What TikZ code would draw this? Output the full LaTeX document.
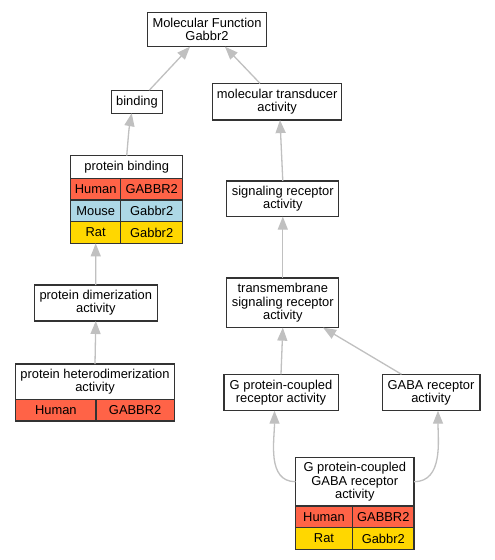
\documentclass[tikz,border=0pt]{standalone}
\usepackage{fontspec}
\setmainfont{Liberation Sans}
\usetikzlibrary{arrows.meta}
\definecolor{human}{RGB}{255,99,71}
\definecolor{mouse}{RGB}{173,216,230}
\definecolor{rat}{RGB}{255,215,0}
\definecolor{linkgray}{RGB}{192,192,192}
\definecolor{boxline}{RGB}{51,51,51}
\tikzset{
  term/.style={draw=boxline,fill=white,line width=1.3pt,align=center,inner sep=1pt,outer sep=0pt,font=\fontsize{12.9}{13.3}\selectfont},
  cell/.style={term,minimum height=21.7pt,anchor=north west},
  link/.style={draw=linkgray,line width=1.3pt},
}

\begin{document}
\begin{tikzpicture}[x=1pt,y=1pt,>={Triangle[length=13pt,width=10pt]}]
\useasboundingbox[fill=white] (0,0) rectangle (495,-560);
\node[term,minimum width=119pt,minimum height=34pt] (mf) at (207,-29.7) {Molecular Function\\Gabbr2};
\node[term,minimum width=51pt,minimum height=23pt,node distance=72pt,below of = mf,xshift=-70pt] (binding) {binding};
\node[term,minimum width=129pt,minimum height=36.7pt,node distance=140.2pt,right of = binding] (mtrans) {molecular transducer\\activity};
\node[term,minimum width=112pt,minimum height=22.6pt,node distance=65.3pt,below of = binding,xshift=-10.3pt] (pbind) {protein binding};
\node[term,minimum width=112pt,minimum height=35.7pt,node distance=97.1pt,below of = mtrans,xshift=5.6pt] (sigrec) {signaling receptor\\activity};
\node[term,minimum width=123pt,minimum height=36pt,node distance=136pt,below of = pbind,xshift=-30.9pt] (dimer) {protein dimerization\\activity};
\node[term,minimum width=112pt,minimum height=49.7pt,node distance=104pt,below of = sigrec] (tmsig) {transmembrane\\signaling receptor\\activity};
\node[term,minimum width=158.6pt,minimum height=35.3pt,node distance=78.7pt,below of = dimer,xshift=-0.8pt] (hetero) {protein heterodimerization\\activity};
\node[term,minimum width=114.3pt,minimum height=36.4pt,node distance=89.7pt,below of = tmsig,xshift=-1.8pt] (gpcr) {G protein-coupled\\receptor activity};
\node[term,minimum width=97.7pt,minimum height=36.4pt,node distance=150pt,right of = gpcr] (gaba) {GABA receptor\\activity};
\node[term,minimum width=118.6pt,minimum height=48.7pt,node distance=89.2pt,below of = gpcr,xshift=73.8pt] (ggaba) {G protein-coupled\\GABA receptor\\activity};

% gene tables
\node[cell,fill=human,minimum width=50pt] (pbH1) at (pbind.south west) {Human};
\node[cell,fill=human,minimum width=62pt] (pbH2) at (pbH1.north east) {GABBR2};
\node[cell,fill=mouse,minimum width=50pt] (pbM1) at (pbH1.south west) {Mouse};
\node[cell,fill=mouse,minimum width=62pt] (pbM2) at (pbM1.north east) {Gabbr2};
\node[cell,fill=rat,minimum width=50pt] (pbR1) at (pbM1.south west) {Rat};
\node[cell,fill=rat,minimum width=62pt] (pbR2) at (pbR1.north east) {Gabbr2};
\node[cell,fill=human,minimum width=80.3pt] (htH1) at (hetero.south west) {Human};
\node[cell,fill=human,minimum width=78.3pt] (htH2) at (htH1.north east) {GABBR2};
\node[cell,fill=human,minimum width=57pt] (ggH1) at (ggaba.south west) {Human};
\node[cell,fill=human,minimum width=61.6pt] (ggH2) at (ggH1.north east) {GABBR2};
\node[cell,fill=rat,minimum width=57pt] (ggR1) at (ggH1.south west) {Rat};
\node[cell,fill=rat,minimum width=61.6pt] (ggR2) at (ggR1.north east) {Gabbr2};

\draw [link,->] ([xshift=12.3pt]binding.north) -- ([xshift=-17pt]mf.south);
\draw [link,->] ([xshift=-17.2pt]mtrans.north) -- ([xshift=18pt]mf.south);
\draw [link,->] (pbind.north) to[out=85,in=-100] ([xshift=-5.3pt]binding.south);
\draw [link,->] (sigrec.north) -- ([xshift=2.8pt]mtrans.south);
\draw [link,->] (dimer.north) -- (pbR1.south);
\draw [link,->] (tmsig.north) -- (sigrec.south);
\draw [link,->] (hetero.north) -- (dimer.south);
\draw [link,->] (gpcr.north) -- (tmsig.south);
\draw [link,->] ([xshift=-29.5pt]gaba.north) -- ([xshift=40.3pt]tmsig.south);
\draw [link,->] (ggaba.west) to[out=180,in=-90] ([xshift=-6.5pt]gpcr.south);
\draw [link,->] (ggaba.east) to[out=0,in=-90] ([xshift=7pt]gaba.south);
\end{tikzpicture}
\end{document}
